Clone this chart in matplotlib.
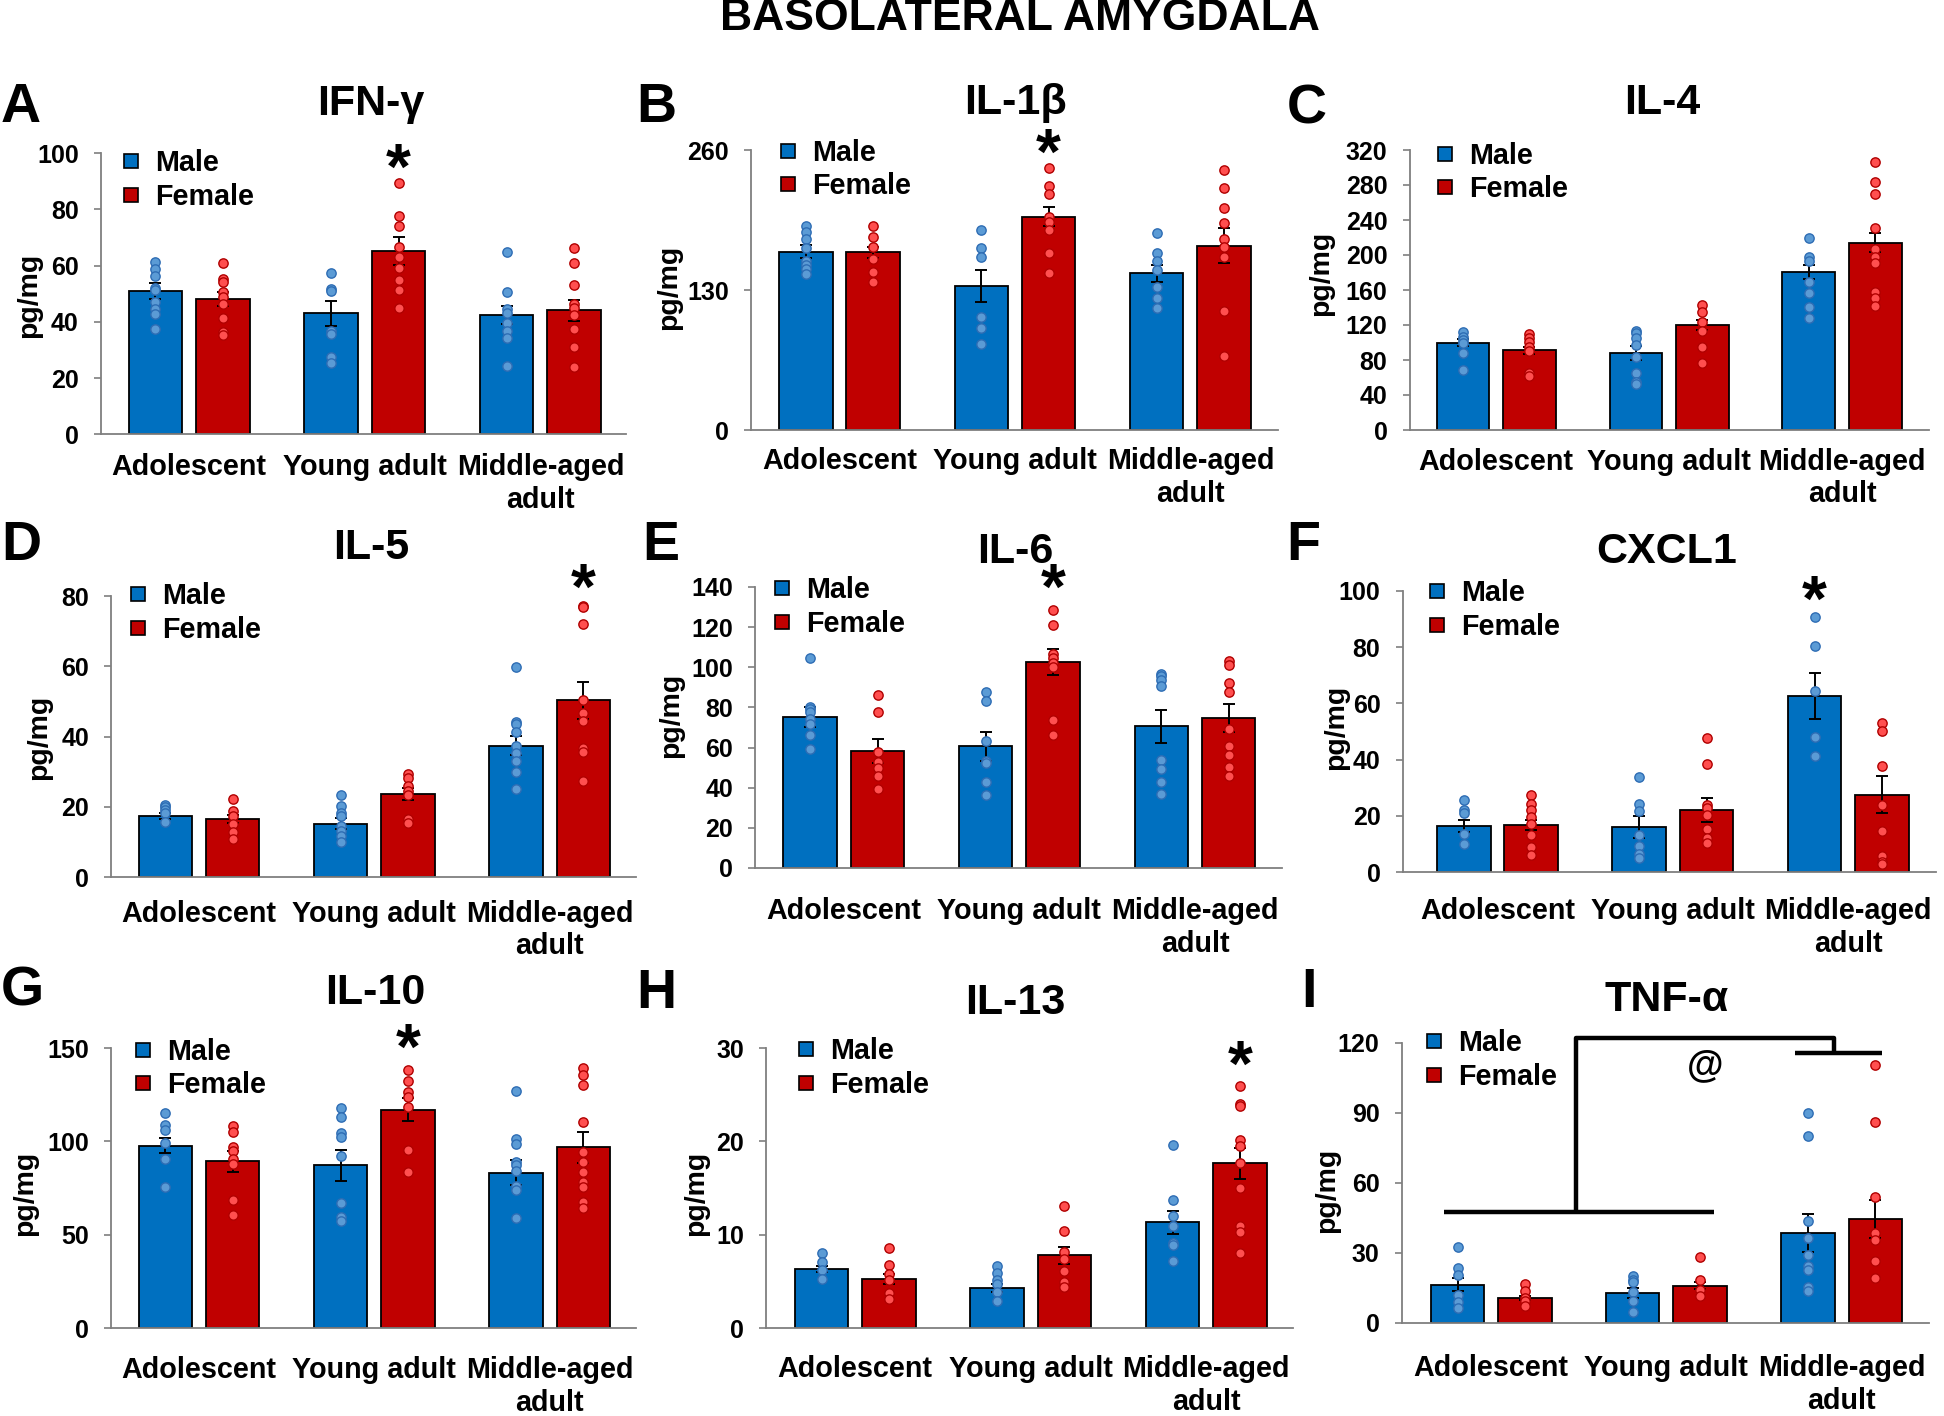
import numpy as np
import matplotlib.pyplot as plt
from matplotlib.lines import Line2D

plt.rcParams['font.family'] = ['Liberation Sans', 'DejaVu Sans']
plt.rcParams['font.weight'] = 'bold'

groups = ['Adolescent', 'Young adult', 'Middle-aged\nadult']

# IFN-gamma
ifng_male = [51.0, 43.1, 42.5]
ifng_female = [48.2, 65.1, 44.1]
ifng_male_sem = [3.0, 4.5, 3.3]
ifng_female_sem = [2.6, 5.0, 3.8]
ifng_male_pts = [[61.4, 58.7, 56.3, 52.0, 51.4, 47.2, 44.5, 42.7, 37.4],
                 [57.3, 51.7, 51.0, 36.9, 35.7, 27.6, 25.5],
                 [64.8, 50.5, 44.6, 43.1, 39.5, 36.9, 34.2, 24.3]]
ifng_female_pts = [[61.1, 55.2, 54.1, 50.8, 49.0, 46.4, 41.4, 36.5, 35.3],
                   [89.3, 77.8, 74.1, 66.8, 63.2, 59.1, 54.9, 51.4, 44.8],
                   [66.4, 60.9, 53.1, 46.4, 44.8, 42.5, 37.4, 31.2, 23.8]]

# IL-1beta
il1b_male = [165.6, 133.7, 145.5]
il1b_female = [165.0, 198.1, 171.2]
il1b_male_sem = [6.0, 14.5, 8.0]
il1b_female_sem = [5.0, 9.0, 16.0]
il1b_male_pts = [[189.4, 184.2, 177.0, 168.7, 156.9, 153.2, 149.2, 144.5],
                 [185.7, 168.7, 160.9, 104.6, 94.4, 79.9],
                 [182.6, 164.0, 157.2, 148.6, 132.5, 122.3, 113.0]]
il1b_female_pts = [[189.7, 179.5, 169.6, 158.5, 146.7, 137.7],
                   [243.6, 226.9, 218.8, 198.1, 193.4, 185.7, 164.0, 146.1],
                   [241.4, 224.4, 205.8, 191.9, 177.0, 170.2, 160.9, 110.8, 68.7]]

# IL-4
il4_male = [99.8, 87.6, 181.0]
il4_female = [91.4, 120.0, 214.1]
il4_male_sem = [4.0, 8.0, 8.0]
il4_female_sem = [4.0, 6.0, 11.0]
il4_male_pts = [[112.4, 106.7, 102.9, 99.0, 88.4, 68.6],
                [113.5, 110.5, 104.8, 97.1, 83.8, 65.5, 55.2, 52.6],
                [219.0, 197.3, 193.1, 169.5, 157.0, 141.0, 128.4]]
il4_female_pts = [[109.7, 104.8, 101.0, 95.2, 90.7, 65.5, 61.7],
                  [142.9, 135.2, 123.8, 113.5, 95.2, 76.2],
                  [306.7, 283.0, 269.7, 230.5, 206.9, 197.3, 190.5, 158.1, 150.5, 142.1]]

# IL-5
il5_male = [17.3, 15.2, 37.4]
il5_female = [16.5, 23.6, 50.3]
il5_male_sem = [0.8, 1.5, 2.8]
il5_female_sem = [1.2, 1.6, 5.2]
il5_male_pts = [[20.6, 19.9, 19.0, 18.2, 15.8],
                [23.4, 20.1, 18.2, 17.4, 14.6, 13.0, 11.8, 10.1],
                [59.7, 44.0, 43.6, 41.4, 37.2, 35.3, 32.9, 29.9, 25.0]]
il5_female_pts = [[22.2, 18.7, 17.4, 15.2, 12.8, 10.9],
                  [29.3, 28.2, 25.8, 24.6, 23.4, 16.5, 15.5],
                  [77.2, 76.8, 72.0, 50.4, 46.6, 44.3, 36.7, 35.5, 27.2]]

# IL-6
il6_male = [75.2, 60.6, 70.6]
il6_female = [58.1, 102.7, 74.8]
il6_male_sem = [5.0, 7.3, 8.3]
il6_female_sem = [6.0, 6.6, 7.1]
il6_male_pts = [[104.7, 80.1, 79.2, 77.6, 74.3, 71.9, 66.4, 59.3],
                [87.5, 83.4, 63.5, 53.2, 52.3, 42.7, 36.4],
                [96.8, 95.5, 93.9, 90.9, 54.0, 49.3, 43.0, 36.7]]
il6_female_pts = [[86.0, 77.6, 57.6, 52.7, 49.8, 46.0, 39.4],
                  [128.7, 121.3, 106.6, 104.7, 102.2, 100.0, 73.6, 66.4],
                  [103.0, 101.3, 92.2, 87.7, 69.4, 60.6, 56.1, 50.2, 45.7]]

# CXCL1
cxcl1_male = [16.3, 15.9, 62.6]
cxcl1_female = [16.8, 22.2, 27.5]
cxcl1_male_sem = [2.1, 3.9, 8.2]
cxcl1_female_sem = [1.7, 4.3, 6.5]
cxcl1_male_pts = [[25.5, 22.2, 21.0, 13.6, 9.8],
                  [33.8, 24.3, 21.7, 13.0, 9.1, 6.3, 5.1],
                  [90.7, 80.5, 64.4, 48.0, 41.2]]
cxcl1_female_pts = [[27.3, 24.1, 21.9, 19.6, 17.2, 13.0, 8.9, 5.9],
                    [47.8, 38.6, 23.7, 22.9, 20.2, 15.4, 12.2, 10.3],
                    [53.0, 50.2, 37.6, 23.7, 14.6, 5.6, 3.6, 3.0]]

# IL-10
il10_male = [97.6, 87.1, 83.2]
il10_female = [89.3, 117.0, 96.7]
il10_male_sem = [4.1, 8.2, 6.6]
il10_female_sem = [5.6, 6.0, 8.4]
il10_male_pts = [[115.3, 108.7, 106.0, 98.9, 90.5, 75.4],
                 [118.1, 112.8, 104.2, 102.4, 92.1, 67.2, 59.7, 57.5],
                 [126.8, 101.2, 98.5, 89.1, 87.3, 84.3, 76.1, 73.9, 59.1]]
il10_female_pts = [[108.3, 104.8, 96.7, 95.0, 90.3, 87.8, 68.6, 60.6],
                   [138.1, 132.4, 126.5, 123.5, 118.5, 95.3, 83.7],
                   [139.5, 135.4, 130.1, 110.5, 94.4, 89.1, 83.7, 78.4, 75.7, 67.7, 64.1]]

# IL-13
il13_male = [6.34, 4.28, 11.33]
il13_female = [5.24, 7.77, 17.63]
il13_male_sem = [0.3, 0.4, 1.25]
il13_female_sem = [0.5, 0.96, 1.7]
il13_male_pts = [[8.0, 7.1, 6.2, 5.2],
                 [6.66, 5.88, 5.09, 4.74, 3.81, 2.85],
                 [19.56, 13.72, 12.0, 10.97, 9.16, 8.9, 7.23]]
il13_female_pts = [[8.55, 6.7, 5.8, 5.1, 3.8, 3.1],
                   [13.07, 10.44, 8.19, 7.37, 6.16, 4.92, 4.38],
                   [25.97, 24.05, 23.8, 20.13, 19.52, 17.7, 14.96, 10.94, 10.33, 8.02]]

# TNF-alpha
tnfa_male = [16.4, 12.9, 38.6]
tnfa_female = [10.7, 16.0, 44.7]
tnfa_male_sem = [2.8, 2.1, 8.3]
tnfa_female_sem = [1.0, 1.5, 8.2]
tnfa_male_pts = [[32.6, 23.6, 20.4, 12.1, 8.9, 6.4],
                 [20.3, 18.6, 17.4, 13.1, 9.3, 4.6],
                 [90.0, 80.0, 43.6, 36.4, 29.3, 24.3, 22.9, 15.4, 13.6]]
tnfa_female_pts = [[16.9, 13.6, 10.7, 9.3, 7.4],
                   [28.1, 18.3, 14.3, 11.4],
                   [110.7, 86.0, 54.0, 38.6, 35.7, 26.4, 19.3]]

W, H = 1944, 1416
MALE_BAR, FEMALE_BAR = '#0070C0', '#C00000'
MALE_DOT, MALE_EDGE = '#5B9BD5', '#2E6DB4'
FEMALE_DOT, FEMALE_EDGE = '#FF4F4F', '#B00000'

# layout in pixels: axis (left, right, top, bottom), first/last group centre,
# title xy, letter xy, legend anchor xy, ylabel centre xy, xlabel pad (pt)
panels = [
    dict(letter='A', title='IFN-γ', data=(ifng_male, ifng_female, ifng_male_sem, ifng_female_sem, ifng_male_pts, ifng_female_pts),
         yticks=[0, 20, 40, 60, 80, 100], ax=(101, 626, 153.3, 434.3), c=(189.2, 540.4), t=(370.5, 104), l=(1, 108),
         leg=(123.5, 180.3), yl=(29.2, 295.7), pad=13.5, star=(1, 'f', 98.3)),
    dict(letter='B', title='IL-1β', data=(il1b_male, il1b_female, il1b_male_sem, il1b_female_sem, il1b_male_pts, il1b_female_pts),
         yticks=[0, 130, 260], ax=(751, 1278, 150, 430), c=(839.5, 1190.4), t=(1015, 103), l=(636, 108),
         leg=(780.8, 169.5), yl=(669, 287), pad=12.0, star=(1, 'f', 266)),
    dict(letter='C', title='IL-4', data=(il4_male, il4_female, il4_male_sem, il4_female_sem, il4_male_pts, il4_female_pts),
         yticks=[0, 40, 80, 120, 160, 200, 240, 280, 320], ax=(1409.7, 1929, 150, 430), c=(1496.2, 1842), t=(1662.3, 103), l=(1287, 109),
         leg=(1437.8, 172.5), yl=(1321.3, 273), pad=12.7, star=None),
    dict(letter='D', title='IL-5', data=(il5_male, il5_female, il5_male_sem, il5_female_sem, il5_male_pts, il5_female_pts),
         yticks=[0, 20, 40, 60, 80], ax=(111.1, 636.4, 596, 877), c=(199, 549.8), t=(371, 548), l=(1, 546),
         leg=(130.8, 613), yl=(39.4, 737), pad=16.3, star=(2, 'f', 85)),
    dict(letter='E', title='IL-6', data=(il6_male, il6_female, il6_male_sem, il6_female_sem, il6_male_pts, il6_female_pts),
         yticks=[0, 20, 40, 60, 80, 100, 120, 140], ax=(755.3, 1282, 587, 868), c=(843.8, 1195), t=(1015, 552), l=(642, 546),
         leg=(774.6, 607), yl=(671, 715), pad=20.7, star=(1, 'f', 144.5)),
    dict(letter='F', title='CXCL1', data=(cxcl1_male, cxcl1_female, cxcl1_male_sem, cxcl1_female_sem, cxcl1_male_pts, cxcl1_female_pts),
         yticks=[0, 20, 40, 60, 80, 100], ax=(1402.6, 1935.6, 591, 872), c=(1497.5, 1848.2), t=(1667, 552), l=(1286, 546),
         leg=(1429.6, 610), yl=(1335.9, 727), pad=17.8, star=(2, 'm', 100.2)),
    dict(letter='G', title='IL-10', data=(il10_male, il10_female, il10_male_sem, il10_female_sem, il10_male_pts, il10_female_pts),
         yticks=[0, 50, 100, 150], ax=(111.1, 636.4, 1048, 1328), c=(199, 549.8), t=(375, 993), l=(1, 992),
         leg=(135.8, 1068.5), yl=(24.9, 1193), pad=20.5, star=(1, 'f', 155)),
    dict(letter='H', title='IL-13', data=(il13_male, il13_female, il13_male_sem, il13_female_sem, il13_male_pts, il13_female_pts),
         yticks=[0, 10, 20, 30], ax=(766.4, 1293, 1048, 1328), c=(855.2, 1206.2), t=(1015, 1003), l=(636, 994),
         leg=(798.6, 1068), yl=(696, 1193), pad=19.5, star=(2, 'f', 29.2)),
    dict(letter='I', title='TNF-α', data=(tnfa_male, tnfa_female, tnfa_male_sem, tnfa_female_sem, tnfa_male_pts, tnfa_female_pts),
         yticks=[0, 30, 60, 90, 120], ax=(1401.8, 1929.3, 1043, 1323), c=(1491.2, 1841.6), t=(1667, 1000), l=(1301, 993),
         leg=(1426.7, 1060), yl=(1327.5, 1190), pad=22.5, star=None),
]

fig = plt.figure(figsize=(W / 100, H / 100), dpi=100)
fig.text(1020 / W, 1 - 19 / H, 'BASOLATERAL AMYGDALA', ha='center', va='center', fontsize=32, fontweight='bold')

x = np.arange(3)
w, off = 0.305, 0.192
axes = []
for p in panels:
    male, female, msem, fsem, mpts, fpts = p['data']
    left, right, top, bottom = p['ax']
    c0, c2 = p['c']
    s = (c2 - c0) / 2
    ax = fig.add_axes([left / W, 1 - bottom / H, (right - left) / W, (bottom - top) / H])
    axes.append(ax)

    ax.bar(x - off, male, w, color=MALE_BAR, edgecolor='black', linewidth=1.3, zorder=2)
    ax.bar(x + off, female, w, color=FEMALE_BAR, edgecolor='black', linewidth=1.3, zorder=2)
    ax.errorbar(x - off, male, yerr=msem, fmt='none', ecolor='black', elinewidth=1.4, capsize=4, capthick=1.4, zorder=3)
    ax.errorbar(x + off, female, yerr=fsem, fmt='none', ecolor='black', elinewidth=1.4, capsize=4, capthick=1.4, zorder=3)
    for i in range(3):
        ax.scatter(np.full(len(mpts[i]), x[i] - off), mpts[i], s=45, facecolor=MALE_DOT,
                   edgecolor=MALE_EDGE, linewidth=1.0, zorder=4, clip_on=False)
        ax.scatter(np.full(len(fpts[i]), x[i] + off), fpts[i], s=45, facecolor=FEMALE_DOT,
                   edgecolor=FEMALE_EDGE, linewidth=1.0, zorder=4, clip_on=False)

    ax.set_xlim((left - c0) / s, (right - c0) / s)
    yt = p['yticks']
    ax.set_ylim(yt[0], yt[-1])
    ax.set_yticks(yt)
    ax.set_xticks(x)
    ax.set_xticklabels(groups, fontsize=20.7, fontweight='bold', linespacing=1.22)
    for sp in ['top', 'right']:
        ax.spines[sp].set_visible(False)
    for sp in ['left', 'bottom']:
        ax.spines[sp].set_color('#7F7F7F')
        ax.spines[sp].set_linewidth(1.3)
    ax.tick_params(axis='x', length=0, pad=p['pad'])
    ax.tick_params(axis='y', length=5, width=1.2, color='#7F7F7F', labelsize=18, pad=11)
    for lab in ax.get_yticklabels():
        lab.set_fontweight('bold')

    ax.set_ylabel('pg/mg', fontsize=20.5, fontweight='bold')
    ylx, yly = p['yl']
    ax.yaxis.set_label_coords((ylx - left) / (right - left), (bottom - yly) / (bottom - top))
    ax.yaxis.label.set_va('center')
    ax.yaxis.label.set_ha('center')

    tx, ty = p['t']
    fig.text(tx / W, 1 - ty / H, p['title'], ha='center', va='center', fontsize=31, fontweight='bold')
    lx, ly = p['l']
    fig.text(lx / W, 1 - ly / H, p['letter'], ha='left', va='center', fontsize=40, fontweight='bold')

    handles = [Line2D([], [], ls='', marker='s', markersize=9.7, markerfacecolor=MALE_BAR, markeredgecolor='black', markeredgewidth=1.2),
               Line2D([], [], ls='', marker='s', markersize=9.7, markerfacecolor=FEMALE_BAR, markeredgecolor='black', markeredgewidth=1.2)]
    gx, gy = p['leg']
    ax.legend(handles, ['Male', 'Female'], loc='center left', bbox_to_anchor=(gx / W, 1 - gy / H),
              bbox_transform=fig.transFigure, frameon=False, borderpad=0, borderaxespad=0,
              handlelength=0.5, handletextpad=0.6, labelspacing=0.2, prop={'size': 20.7, 'weight': 'bold'})

    if p['star'] is not None:
        g, sex, ys = p['star']
        xs = x[g] + (off if sex == 'f' else -off)
        ax.annotate('*', xy=(xs, ys), xytext=(0, -22), textcoords='offset points', ha='center', va='baseline',
                    fontsize=46, fontweight='bold', annotation_clip=False)

# TNF-alpha bracket: adolescent + young adult vs middle-aged
ax = axes[8]
kw = dict(color='black', lw=3.2, clip_on=False, solid_capstyle='butt', zorder=5)
ax.plot([-0.27, 1.27], [47.6, 47.6], **kw)
ax.plot([0.484, 0.484, 1.958, 1.958], [47.6, 122, 122, 115.7], **kw)
ax.plot([1.736, 2.23], [115.7, 115.7], **kw)
ax.text(1.22, 110, '@', ha='center', va='center', fontsize=27, fontweight='bold')

fig.savefig('out.png', dpi=100)
